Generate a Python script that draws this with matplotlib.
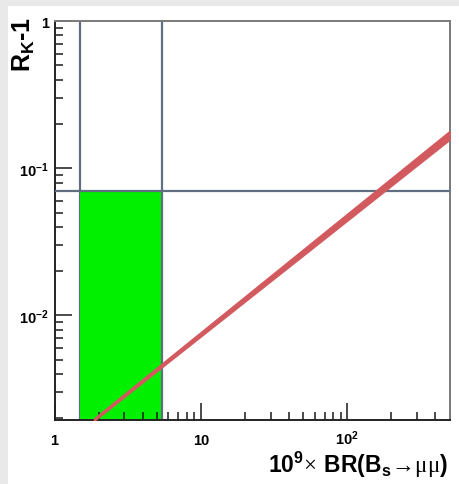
import matplotlib
matplotlib.use("Agg")
import matplotlib.pyplot as plt
from matplotlib.patches import Rectangle
from matplotlib.ticker import FixedLocator, LogLocator, NullFormatter, FixedFormatter

plt.rcParams['mathtext.fontset'] = 'custom'
plt.rcParams['mathtext.rm'] = 'Liberation Serif'
plt.rcParams['mathtext.bf'] = 'Liberation Sans:bold'
plt.rcParams['mathtext.it'] = 'Liberation Sans:italic'
plt.rcParams['font.family'] = ['Liberation Sans', 'DejaVu Sans']

# axis ranges
x_range = [1.0, 500.0]
y_range = [0.00195, 1.0]

# allowed region
br_limits = [1.5, 5.4]
rk_limit = 0.07

# predicted band R_K - 1 vs BR(Bs->mumu)
br_band = [1.86, 500.0]
rk_low = [0.00192, 0.156]
rk_high = [0.00200, 0.179]

x_ticks = [1, 10, 100]
x_tick_labels = ['1', '10', r'$\mathbf{10^{2}}$']
y_ticks = [0.01, 0.1, 1]
y_tick_labels = [r'$\mathbf{10^{-2}}$', r'$\mathbf{10^{-1}}$', '1']

fig = plt.figure(figsize=(4.59, 4.85), dpi=100)
fig.patch.set_facecolor('white')
# light frame strips
fig.patches.append(Rectangle((0, 1 - 7 / 485), 1, 7 / 485, transform=fig.transFigure,
                             facecolor='#e9e9e9', edgecolor='none', zorder=0))
fig.patches.append(Rectangle((0, 0), 8 / 459, 1, transform=fig.transFigure,
                             facecolor='#e9e9e9', edgecolor='none', zorder=0))

ax = fig.add_axes([54.5 / 459, 1 - 421 / 485, 395 / 459, 399 / 485])
ax.set_xscale('log')
ax.set_yscale('log')
ax.set_xlim(*x_range)
ax.set_ylim(*y_range)

line_col = '#5f6f80'
# green allowed box
ax.add_patch(Rectangle((br_limits[0], y_range[0]), br_limits[1] - br_limits[0],
                       rk_limit - y_range[0], facecolor='#00f000', edgecolor='none', zorder=0.5))
ax.axvline(br_limits[0], color=line_col, lw=1.6, zorder=0.4)
ax.axvline(br_limits[1], color=line_col, lw=1.6, zorder=0.6)
ax.axhline(rk_limit, color=line_col, lw=1.6, zorder=3)

# prediction band
ax.fill_between(br_band, rk_low, rk_high, facecolor='#d25a5e', edgecolor='#d25a5e',
                lw=1.0, zorder=4)

for side in ['left', 'bottom']:
    ax.spines[side].set_color('#222222')
    ax.spines[side].set_linewidth(1.4)
for side in ['top', 'right']:
    ax.spines[side].set_color('#7a7a7a')
    ax.spines[side].set_linewidth(1.4)

ax.xaxis.set_major_locator(FixedLocator(x_ticks))
ax.xaxis.set_major_formatter(FixedFormatter(x_tick_labels))
ax.yaxis.set_major_locator(FixedLocator(y_ticks))
ax.yaxis.set_major_formatter(FixedFormatter(y_tick_labels))
ax.xaxis.set_minor_locator(LogLocator(base=10, subs=range(2, 10)))
ax.yaxis.set_minor_locator(LogLocator(base=10, subs=range(2, 10)))
ax.xaxis.set_minor_formatter(NullFormatter())
ax.yaxis.set_minor_formatter(NullFormatter())

ax.tick_params(which='both', direction='in', top=False, right=False, color='#1a1a1a', width=1.1)
ax.tick_params(which='major', length=12)
ax.tick_params(which='minor', length=6)
ax.tick_params(axis='x', which='major', pad=17, labelsize=10.5)
ax.tick_params(axis='y', which='major', pad=4, labelsize=10.5)

fig.canvas.draw()
for lab in ax.get_xticklabels():
    lab.set_fontweight('bold')
    lab.set_verticalalignment('baseline')
for lab in ax.get_yticklabels():
    lab.set_fontweight('bold')

fig.text(448 / 459, 1 - 473 / 485,
         r'$\mathbf{10^{9}}\!\times\,\mathbf{BR(B_{s}}\!\rightarrow\!\mathrm{μμ}\mathbf{)}$',
         ha='right', va='baseline', fontsize=16.5)
fig.text(24 / 459, 1 - 17 / 485, r'$\mathbf{R_{K}}$' + '-1', rotation=90,
         ha='center', va='top', fontsize=18, fontweight='bold')

fig.savefig('out.png', dpi=100, facecolor=fig.get_facecolor())
